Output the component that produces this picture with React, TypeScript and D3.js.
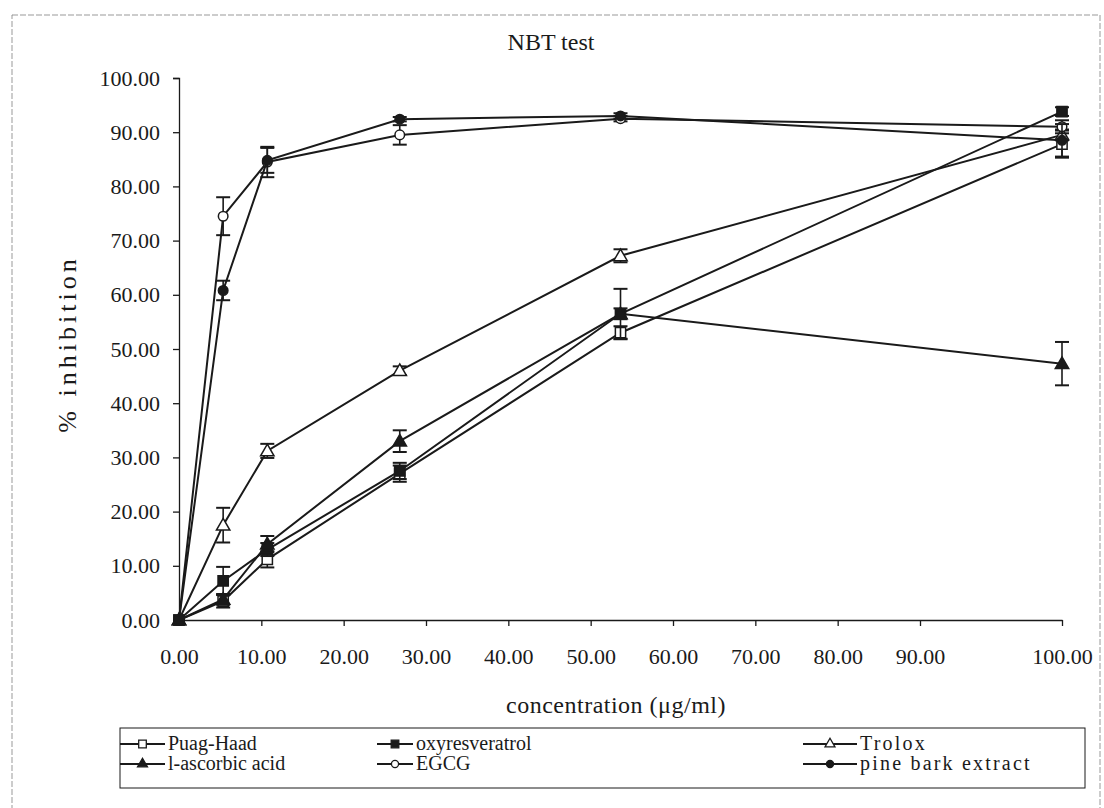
import React, { useEffect, useRef } from 'react';
import * as d3 from 'd3';

const concentrations = [0, 5, 10, 25, 50, 100];

const puagHaad = [0, 3.5, 11.2, 27.0, 53.0, 87.8];
const puagHaadErr = [0, 1.2, 1.5, 1.5, 1.2, 2.5];
const oxyresveratrol = [0, 7.2, 13.0, 27.5, 56.5, 93.8];
const oxyresveratrolErr = [0, 2.6, 1.2, 1.5, 4.6, 0.8];
const trolox = [0, 17.5, 31.2, 46.0, 67.2, 89.5];
const troloxErr = [0, 3.2, 1.3, 0.8, 1.2, 1.0];
const ascorbic = [0, 3.8, 14.0, 33.0, 56.5, 47.3];
const ascorbicErr = [0, 1.0, 1.5, 2.0, 1.0, 4.0];
const egcg = [0, 74.5, 84.5, 89.5, 92.5, 91.0];
const egcgErr = [0, 3.5, 2.8, 1.8, 0.5, 1.2];
const pineBark = [0, 60.8, 84.8, 92.4, 93.0, 88.5];
const pineBarkErr = [0, 1.8, 2.3, 0.4, 0.5, 3.0];

const seriesNames = ['Puag-Haad', 'oxyresveratrol', 'Trolox', 'l-ascorbic acid', 'EGCG', 'pine bark extract'];
const xTickValues = [0, 10, 20, 30, 40, 50, 60, 70, 80, 90, 100];
const yTickValues = [0, 10, 20, 30, 40, 50, 60, 70, 80, 90, 100];

type Marker = 'square' | 'triangle' | 'circle';

const series = [
  { name: seriesNames[0], values: puagHaad, err: puagHaadErr, marker: 'square' as Marker, filled: false },
  { name: seriesNames[1], values: oxyresveratrol, err: oxyresveratrolErr, marker: 'square' as Marker, filled: true },
  { name: seriesNames[2], values: trolox, err: troloxErr, marker: 'triangle' as Marker, filled: false },
  { name: seriesNames[3], values: ascorbic, err: ascorbicErr, marker: 'triangle' as Marker, filled: true },
  { name: seriesNames[4], values: egcg, err: egcgErr, marker: 'circle' as Marker, filled: false },
  { name: seriesNames[5], values: pineBark, err: pineBarkErr, marker: 'circle' as Marker, filled: true },
];

const FONT = '"Liberation Serif", "Times New Roman", serif';
const INK = '#1a1a1a';

const symbolFor = (m: Marker, scale = 1) => {
  if (m === 'square') return d3.symbol().type(d3.symbolSquare).size(105 * scale)();
  if (m === 'triangle') return d3.symbol().type(d3.symbolTriangle).size(78 * scale)();
  return d3.symbol().type(d3.symbolCircle).size(72 * scale)();
};

const App: React.FC = () => {
  const svgRef = useRef<SVGSVGElement>(null);

  useEffect(() => {
    const svg = d3.select(svgRef.current);
    svg.selectAll('*').remove();

    const left = 179, right = 1062, top = 78, bottom = 620;

    const x = d3.scaleLinear().domain([0, 100]).range([left, right]);
    const y = d3.scaleLinear().domain([0, 100]).range([bottom, top]);
    // tick labels in the original are spaced unevenly: 0..90 evenly, then 100 at the end
    const xTicks = d3.scaleLinear().domain([0, 90, 100]).range([left, left + 741, right]);

    // outer frame
    svg.append('rect')
      .attr('x', 12).attr('y', 15).attr('width', 1088).attr('height', 810)
      .attr('fill', 'none').attr('stroke', '#999').attr('stroke-width', 1)
      .attr('stroke-dasharray', '6,2');

    svg.append('text')
      .attr('x', 551).attr('y', 50)
      .attr('text-anchor', 'middle')
      .attr('font-family', FONT).attr('font-size', 24).attr('fill', INK)
      .text('NBT test');

    const yAxis = svg.append('g')
      .attr('transform', `translate(${left},0)`)
      .call(d3.axisLeft(y).tickValues(yTickValues).tickFormat(d3.format('.2f')).tickSize(6).tickSizeOuter(6).tickPadding(13));
    const xAxis = svg.append('g')
      .attr('transform', `translate(0,${bottom})`)
      .call(d3.axisBottom(xTicks).tickValues(xTickValues).tickFormat(d3.format('.2f')).tickSize(6).tickSizeOuter(0).tickPadding(22));
    [yAxis, xAxis].forEach(a => {
      a.selectAll('path, line').attr('stroke', INK).attr('stroke-width', 1.3);
      a.selectAll('text').attr('font-family', FONT).attr('font-size', 22).attr('fill', INK);
    });

    svg.append('text')
      .attr('x', 616).attr('y', 713)
      .attr('text-anchor', 'middle')
      .attr('font-family', FONT).attr('font-size', 24).attr('fill', INK)
      .attr('letter-spacing', 0.5)
      .text('concentration (μg/ml)');

    svg.append('text')
      .attr('transform', 'translate(76,344) rotate(-90)')
      .attr('text-anchor', 'middle')
      .attr('font-family', FONT).attr('font-size', 26).attr('fill', INK)
      .attr('letter-spacing', 4)
      .text('% inhibition');

    const line = d3.line<number>().x((_, i) => x(concentrations[i])).y(d => y(d));
    const plot = svg.append('g');

    series.forEach(s => {
      const g = plot.append('g');
      g.append('path')
        .datum(s.values)
        .attr('fill', 'none').attr('stroke', INK).attr('stroke-width', 2)
        .attr('d', line);

      s.values.forEach((v, i) => {
        const e = s.err[i];
        if (!e) return;
        const cx = x(concentrations[i]);
        g.append('line').attr('x1', cx).attr('x2', cx).attr('y1', y(v - e)).attr('y2', y(v + e))
          .attr('stroke', INK).attr('stroke-width', 1.6);
        [v - e, v + e].forEach(t => {
          g.append('line').attr('x1', cx - 7).attr('x2', cx + 7).attr('y1', y(t)).attr('y2', y(t))
            .attr('stroke', INK).attr('stroke-width', 2);
        });
      });

      g.selectAll('path.mark')
        .data(s.values)
        .join('path')
        .attr('class', 'mark')
        .attr('transform', (d, i) => `translate(${x(concentrations[i])},${y(d) + (s.marker === 'triangle' ? 1 : 0)})`)
        .attr('d', symbolFor(s.marker))
        .attr('fill', s.filled ? INK : '#fff')
        .attr('stroke', INK).attr('stroke-width', 1.5);
    });

    // legend
    svg.append('rect')
      .attr('x', 120).attr('y', 728).attr('width', 965).attr('height', 60)
      .attr('fill', 'none').attr('stroke', INK).attr('stroke-width', 1);

    const colX = [120, 377, 803];
    const colW = [45, 36, 54];
    const rowY = [744, 764];
    series.forEach((s, i) => {
      const col = i % 3;
      const row = Math.floor(i / 3);
      const lx = colX[col], ly = rowY[row], w = colW[col];
      const g = svg.append('g');
      g.append('line').attr('x1', lx).attr('x2', lx + w).attr('y1', ly).attr('y2', ly)
        .attr('stroke', INK).attr('stroke-width', 1.8);
      g.append('path')
        .attr('transform', `translate(${lx + w / 2},${ly})`)
        .attr('d', symbolFor(s.marker, 0.55))
        .attr('fill', s.filled ? INK : '#fff')
        .attr('stroke', INK).attr('stroke-width', 1.3);
      g.append('text')
        .attr('x', lx + w + 3).attr('y', ly + 6)
        .attr('font-family', FONT).attr('font-size', 20).attr('fill', INK)
        .attr('letter-spacing', col === 2 ? 2.2 : 0)
        .text(s.name);
    });
  }, []);

  return (
    <div style={{ position: 'fixed', left: 0, top: 0, background: '#fff' }}>
      <svg ref={svgRef} width="1104" height="808"></svg>
    </div>
  );
};

export default App;
